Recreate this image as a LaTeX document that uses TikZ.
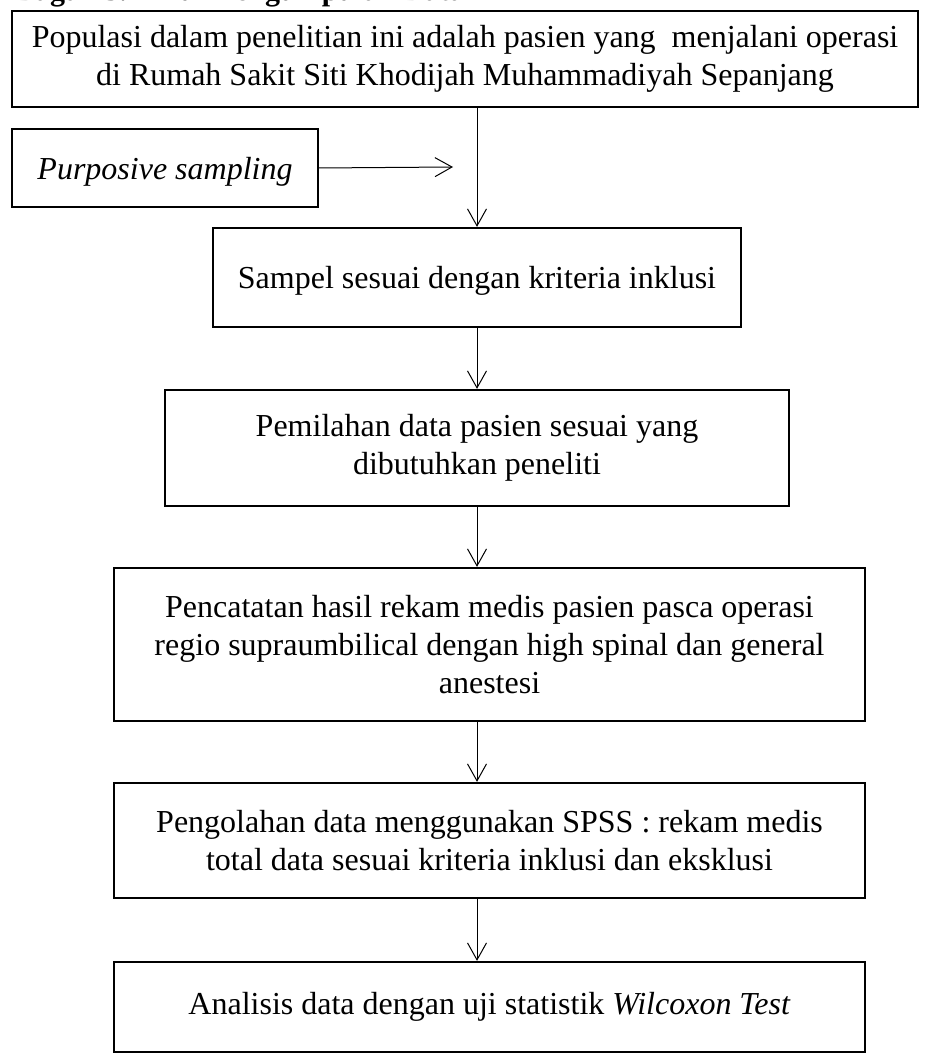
\documentclass[tikz,border=0pt]{standalone}
\usepackage{fontspec}
\setmainfont{Liberation Serif}
\usetikzlibrary{arrows.meta}

\begin{document}
\begin{tikzpicture}[x=0.5pt,y=-0.5pt,
    box/.style={draw,line width=1.1pt,align=center,inner sep=0pt,font=\fontsize{16}{19}\selectfont},
    arr/.style={line width=0.5pt,-{Straight Barb[length=8.5pt,width=9.5pt]}}]
  \clip (0,0) rectangle (927,1063);
  \node[anchor=base west,font=\fontsize{15}{18.5}\selectfont\bfseries] (title) at (8,1) {Bagan 3.2 Alur Pengumpulan Data};
  \node[box,minimum width=453pt,minimum height=48pt] (pop) at (465,59)
    {Populasi dalam penelitian ini adalah pasien yang~ menjalani operasi\\
     di Rumah Sakit Siti Khodijah Muhammadiyah Sepanjang};
  \node[box,text depth=0pt,minimum width=153pt,minimum height=39pt] (purp) at (165,168) {\textit{Purposive sampling}};
  \node[box,text depth=0pt,minimum width=264pt,minimum height=49.5pt] (sampel) at (477,277.5)
    {Sampel sesuai dengan kriteria inklusi};
  \node[box,minimum width=312pt,minimum height=58pt] (pilah) at (477,448)
    {Pemilahan data pasien sesuai yang\\ dibutuhkan peneliti};
  \node[box,minimum width=375.5pt,minimum height=76.5pt] (catat) at (489.5,644.5)
    {Pencatatan hasil rekam medis pasien pasca operasi\\
     regio supraumbilical dengan high spinal dan general\\ anestesi};
  \node[box,minimum width=375.5pt,minimum height=57.5pt] (olah) at (489.5,840.5)
    {Pengolahan data menggunakan SPSS : rekam medis\\
     total data sesuai kriteria inklusi dan eksklusi};
  \node[box,minimum width=375.5pt,minimum height=45pt] (analisis) at (489.5,1007)
    {Analisis data dengan uji statistik \textit{Wilcoxon Test}};
  \coordinate (purpend) at (453,167);

  \path[arr]
    (pop.south -| sampel.north) edge (sampel.north)
    (purp.east) edge (purpend)
    (sampel.south) edge (pilah.north)
    (pilah.south) edge (pilah.south |- catat.north)
    (catat.south -| pilah.south) edge (olah.north -| pilah.south)
    (olah.south -| pilah.south) edge (analisis.north -| pilah.south);
\end{tikzpicture}
\end{document}
